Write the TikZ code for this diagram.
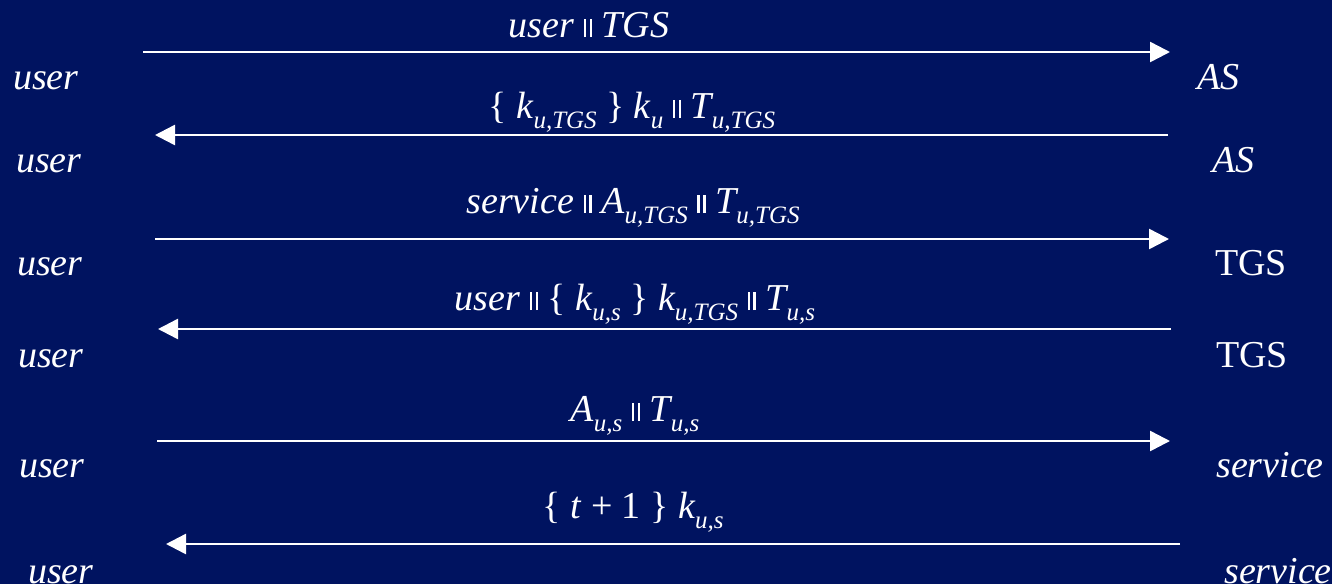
\documentclass[tikz,border=0pt]{standalone}
\usepackage{fontspec}
\setmainfont{Liberation Serif}
\usetikzlibrary{arrows.meta}
\definecolor{navy}{RGB}{0,19,96}
\newcommand{\sbs}[1]{\raisebox{-0.28em}{\fontsize{25}{25}\selectfont\itshape #1}}
\newcommand{\pp}{\textup{\rule{2.6pt}{18pt}\hspace{3.2pt}\rule{2.6pt}{18pt}}}
\newcommand{\lb}{\textup{\{}}
\newcommand{\rb}{\textup{\}}}
\begin{document}
\begin{tikzpicture}[x=1pt,y=-1pt,
  every node/.style={text=white,inner sep=0pt,font=\fontsize{38}{42}\selectfont\itshape},
  side/.style={anchor=base west},
  msg/.style={anchor=base},
  arr/.style={draw=white,line width=2.5pt,-{Triangle[length=20pt,width=20pt]}}]
\fill[navy] (0,0) rectangle (1332,584);
\useasboundingbox (0,0) rectangle (1332,584);
% row 1
\node[msg] (m1) at (589,37) {user \pp{} TGS};
\node[side] (u1) at (13,89) {user};
\node[side] (r1) at (1197,89) {AS};
\coordinate (a1s) at (143,52);
\coordinate (a1e) at (1170,52);
\draw[arr] (a1s) -- (a1e);
% row 2
\node[msg] (m2) at (632,118) {\lb{} k\sbs{u,TGS} \rb{} k\sbs{u} \pp{} T\sbs{u,TGS}};
\node[side] (u2) at (16,172) {user};
\node[side] (r2) at (1212,172) {AS};
\coordinate (a2s) at (1168,135);
\coordinate (a2e) at (155,135);
\draw[arr] (a2s) -- (a2e);
% row 3
\node[msg] (m3) at (633,213) {service \pp{} A\sbs{u,TGS} \pp{} T\sbs{u,TGS}};
\node[side] (u3) at (17,275) {user};
\node[side,font=\fontsize{38}{42}\selectfont\upshape] (r3) at (1215,275) {TGS};
\coordinate (a3s) at (155,239);
\coordinate (a3e) at (1169,239);
\draw[arr] (a3s) -- (a3e);
% row 4
\node[msg] (m4) at (635,310) {user \pp{} \lb{} k\sbs{u,s} \rb{} k\sbs{u,TGS} \pp{} T\sbs{u,s}};
\node[side] (u4) at (18,367) {user};
\node[side,font=\fontsize{38}{42}\selectfont\upshape] (r4) at (1216,367) {TGS};
\coordinate (a4s) at (1171,329);
\coordinate (a4e) at (158,329);
\draw[arr] (a4s) -- (a4e);
% row 5
\node[msg] (m5) at (635,421) {A\sbs{u,s} \pp{} T\sbs{u,s}};
\node[side] (u5) at (19,477) {user};
\node[side] (r5) at (1216,477) {service};
\coordinate (a5s) at (157,441);
\coordinate (a5e) at (1170,441);
\draw[arr] (a5s) -- (a5e);
% row 6
\node[msg] (m6) at (633,518) {\lb{} t \textup{+ 1} \rb{} k\sbs{u,s}};
\node[side] (u6) at (28,583) {user};
\node[side] (r6) at (1224,583) {service};
\coordinate (a6s) at (1180,544);
\coordinate (a6e) at (166,544);
\draw[arr] (a6s) -- (a6e);
\end{tikzpicture}
\end{document}
